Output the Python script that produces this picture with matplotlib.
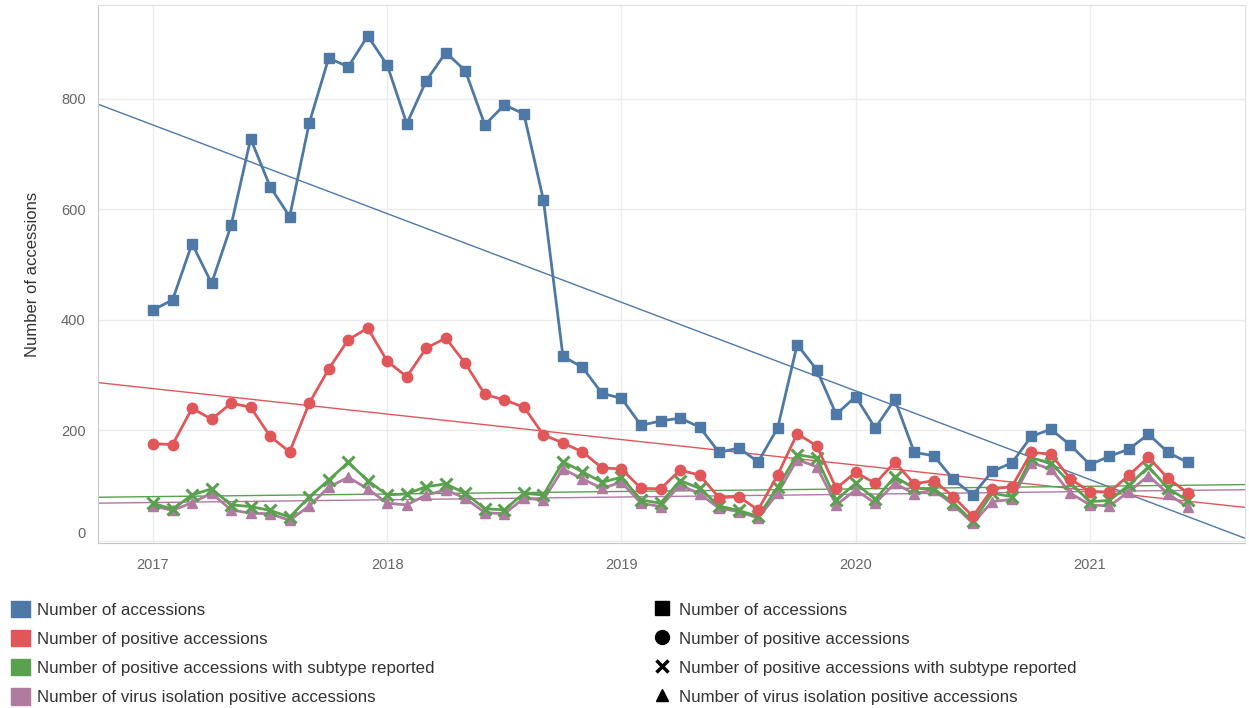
import numpy as np
import matplotlib
matplotlib.use("Agg")
import matplotlib.pyplot as plt
from matplotlib.lines import Line2D
from matplotlib.patches import Patch
from matplotlib.transforms import ScaledTranslation

plt.rcParams['font.family'] = ['Liberation Sans', 'DejaVu Sans']

# ---- data ----
start_year = 2017
n_months = 54  # Jan 2017 .. Jun 2021

accessions = [418, 436, 538, 466, 571, 728, 641, 587, 756, 874, 858, 914,
              861, 755, 833, 884, 851, 753, 789, 773, 617, 334, 314, 267,
              258, 209, 217, 222, 206, 160, 168, 143, 204, 355, 310, 229,
              261, 204, 256, 160, 154, 111, 83, 126, 141, 189, 202, 173,
              138, 153, 166, 193, 160, 142]
positive = [176, 174, 240, 220, 249, 242, 189, 161, 249, 311, 364, 385,
            325, 297, 349, 367, 321, 265, 255, 242, 192, 177, 161, 132,
            130, 95, 94, 128, 119, 78, 80, 56, 119, 194, 172, 95,
            124, 104, 142, 103, 109, 80, 44, 94, 98, 160, 157, 112,
            89, 88, 119, 151, 113, 87]
subtype = [68, 57, 83, 94, 65, 62, 55, 43, 79, 110, 142, 109,
           83, 85, 98, 103, 86, 58, 56, 86, 83, 143, 125, 106,
           115, 74, 68, 109, 95, 63, 55, 44, 97, 156, 150, 74,
           104, 75, 116, 95, 94, 69, 35, 86, 80, 150, 141, 104,
           71, 73, 101, 134, 95, 73]
isolation = [63, 55, 69, 86, 56, 50, 49, 37, 63, 97, 115, 94,
             68, 65, 83, 92, 77, 51, 49, 77, 74, 130, 112, 95,
             106, 68, 62, 101, 85, 59, 53, 41, 86, 147, 134, 65,
             92, 68, 104, 85, 92, 65, 32, 71, 75, 141, 130, 86,
             65, 63, 89, 118, 85, 61]

series_names = ["Number of accessions",
                "Number of positive accessions",
                "Number of positive accessions with subtype reported",
                "Number of virus isolation positive accessions"]
year_ticks = [2017, 2018, 2019, 2020, 2021]
y_ticks = [0, 200, 400, 600, 800]

# ---- style ----
colors = ["#4E79A7", "#E15759", "#59A14F", "#B07AA1"]
markers = ["s", "o", "x", "^"]
msizes = [7, 7.5, 8, 6.5]
zorders = [6, 5, 4, 3]

x = start_year + np.arange(n_months) / 12.0
xlim = (2016.765, 2021.662)

fig = plt.figure(figsize=(12.49, 7.08), dpi=100)
ax = fig.add_axes([98 / 1249, 1 - 543 / 708, (1245 - 98) / 1249, (543 - 5) / 708])

all_series = [accessions, positive, subtype, isolation]

# trend lines (linear fit) spanning the axis
xx = np.array(xlim)
for vals, c in zip(all_series, colors):
    k, b = np.polyfit(x, np.array(vals, float), 1)
    ax.plot(xx, k * xx + b, color=c, lw=1.0, zorder=2)

for vals, c, m, ms, z in zip(all_series, colors, markers, msizes, zorders):
    kw = dict(color=c, lw=2.0, marker=m, markersize=ms, zorder=z)
    if m == "x":
        kw["markeredgewidth"] = 2.2
    ax.plot(x, vals, **kw)

ax.set_xlim(*xlim)
ax.set_ylim(-4, 970)
ax.set_xticks(year_ticks)
ax.set_xticklabels([str(t) for t in year_ticks])
ax.set_yticks(y_ticks)
ax.grid(True, color="#ececec", lw=1.0, zorder=0)
ax.set_axisbelow(True)
ax.tick_params(axis="both", length=0, labelsize=10.5, colors="#666666")
ax.tick_params(axis="y", pad=9)
ax.tick_params(axis="x", pad=11)
for s in ["left", "bottom"]:
    ax.spines[s].set_color("#c8c8c8")
for s in ["top", "right"]:
    ax.spines[s].set_color("#e0e0e0")
ax.set_ylabel("Number of accessions", fontsize=12, color="#333333", labelpad=15)

# lift the "0" label a little, as in the reference
fig.canvas.draw()
zero_lbl = ax.get_yticklabels()[0]
zero_lbl.set_transform(zero_lbl.get_transform() +
                       ScaledTranslation(0, 8 / 100, fig.dpi_scale_trans))

# legends
color_handles = [Patch(facecolor=c, edgecolor=c) for c in colors]
leg_kw = dict(loc="upper left", frameon=False, fontsize=12.2,
              handlelength=1.1, handleheight=1.1, handletextpad=0.45,
              labelspacing=0.72, borderpad=0, borderaxespad=0)
leg1 = fig.legend(color_handles, series_names,
                  bbox_to_anchor=(11 / 1249, 1 - 601 / 708), **leg_kw)
shape_handles = [Line2D([], [], color="black", marker=m, linestyle="none",
                        markersize=s, markeredgewidth=2.5 if m == "x" else 1)
                 for m, s in zip(markers, [9.5, 10, 8.5, 9])]
leg2 = fig.legend(shape_handles, series_names,
                  bbox_to_anchor=(653 / 1249, 1 - 601 / 708), **leg_kw)
for leg in (leg1, leg2):
    for t in leg.get_texts():
        t.set_color("#333333")

fig.savefig("out.png", dpi=100)
